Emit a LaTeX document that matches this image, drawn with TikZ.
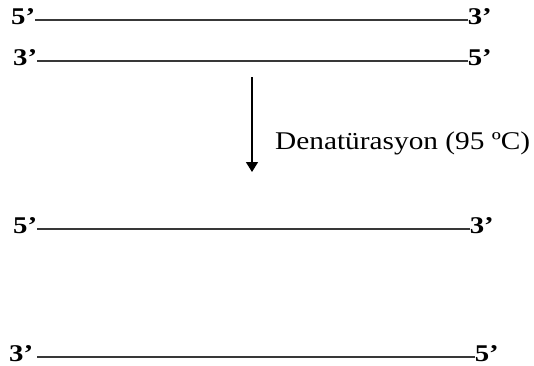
\documentclass[tikz,border=0pt]{standalone}
\usepackage{fontspec}
\usepackage{graphicx}
\setmainfont{Liberation Serif}
\usetikzlibrary{arrows.meta}
\tikzset{
  lbl/.style={inner sep=0pt, font=\fontsize{24}{24}\selectfont\bfseries},
  strand/.style={draw=black!78, line width=2pt},
  arr/.style={draw=black, line width=1.4pt, -{Triangle[width=12pt,length=10pt]}},
  txt/.style={inner sep=0pt, font=\fontsize{25.5}{25.5}\selectfont}
}
\newcommand{\wide}[1]{\scalebox{1.2}[1]{#1}}
\begin{document}
\begin{tikzpicture}[x=1pt,y=-1pt]
\useasboundingbox (0,0) rectangle (534,365);
% strand 1
\node[lbl, anchor=base west] (a1) at (11,24.5) {\wide{5’}};
\node[lbl, anchor=base east] (b1) at (492,24.5) {\wide{3’}};
\draw[strand] ([yshift=4.5pt]a1.base east) -- ([yshift=4.5pt]b1.base west);
% strand 2
\node[lbl, anchor=base west] (a2) at (13,65) {\wide{3’}};
\node[lbl, anchor=base east] (b2) at (492,65) {\wide{5’}};
\draw[strand] ([yshift=4.5pt]a2.base east) -- ([yshift=4.5pt]b2.base west);
% arrow
\coordinate (top) at (252,77);
\coordinate (bot) at (252,172);
\draw[arr] (top) -- (bot);
\node[txt, anchor=base west] (t) at (275,149) {\scalebox{1.15}[1]{Denatürasyon (95 ºC)}};
% strand 3
\node[lbl, anchor=base west] (a3) at (13,233) {\wide{5’}};
\node[lbl, anchor=base east] (b3) at (494,233) {\wide{3’}};
\draw[strand] ([yshift=4.5pt]a3.base east) -- ([yshift=4.5pt]b3.base west);
% strand 4
\node[lbl, anchor=base west] (a4) at (9,361) {\wide{3’}};
\node[lbl, anchor=base east] (b4) at (499,361) {\wide{5’}};
\draw[strand] ([xshift=4pt,yshift=4pt]a4.base east) -- ([yshift=4pt]b4.base west);
\end{tikzpicture}
\end{document}
